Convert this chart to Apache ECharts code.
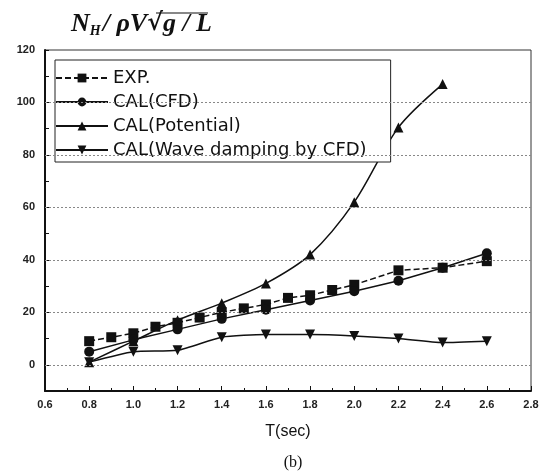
<!DOCTYPE html>
<html lang="en">

<head>
    <meta charset="UTF-8">
    <title>N_H chart</title>
    <script src="https://cdn.jsdelivr.net/npm/echarts@6/dist/echarts.min.js"></script>
    <style>
        body { margin: 0; background: #fff; }
        #app { width: 550px; height: 476px; }
    </style>
</head>

<body>
    <div id="app"></div>
    <script>
        // values
        let expT = [0.8, 0.9, 1.0, 1.1, 1.2, 1.3, 1.4, 1.5, 1.6, 1.7, 1.8, 1.9, 2.0, 2.2, 2.4, 2.6]
        let expV = [9, 10.5, 12, 14.5, 16, 18, 20, 21.5, 23, 25.5, 26.5, 28.5, 30.5, 36, 37, 39.5]
        let cfdT = [0.8, 1.0, 1.2, 1.4, 1.6, 1.8, 2.0, 2.2, 2.4, 2.6]
        let cfdV = [5, 9.5, 13.5, 17.5, 21, 24.5, 28, 32, 37, 42.5]
        let potT = [0.8, 1.0, 1.2, 1.4, 1.6, 1.8, 2.0, 2.2, 2.4]
        let potV = [1, 9, 17, 23.5, 31, 42, 62, 90.5, 107]
        let wavT = [0.8, 1.0, 1.2, 1.4, 1.6, 1.8, 2.0, 2.2, 2.4, 2.6]
        let wavV = [1, 5, 5.5, 10.5, 11.5, 11.5, 11, 10, 8.5, 9]
        let gridValues = [0, 20, 40, 60, 80, 100]
        let names = ['EXP.', 'CAL(CFD)', 'CAL(Potential)', 'CAL(Wave damping by CFD)']

        function pairs(xs, ys) {
            return xs.map((x, i) => [x, ys[i]])
        }

        let mCharts = echarts.init(document.getElementById('app'))
        let base = {
            type: 'line',
            symbolSize: 10,
            color: '#111',
            lineStyle: { color: '#111', width: 1.5 },
            itemStyle: { color: '#111' },
            animation: false
        }
        let option = {
            animation: false,
            title: [{
                text: '{i|N}{s|H}{i|/ ρV}{r|√}{i|g / L}',
                left: 66,
                top: 5,
                textStyle: {
                    rich: {
                        i: { fontFamily: 'Liberation Serif', fontStyle: 'italic', fontSize: 26, color: '#111' },
                        s: { fontFamily: 'Liberation Serif', fontStyle: 'italic', fontSize: 14, color: '#111', padding: [14, 2, 0, 0] },
                        r: { fontFamily: 'DejaVu Serif', fontSize: 24, color: '#111' }
                    }
                }
            }, {
                text: '(b)',
                left: 288,
                top: 450,
                textAlign: 'center',
                textStyle: { fontFamily: 'Liberation Serif', fontSize: 16, fontWeight: 'normal', color: '#111' }
            }],
            graphic: [{
                type: 'line',
                shape: { x1: 156, y1: 13, x2: 208, y2: 13 },
                style: { stroke: '#111', lineWidth: 1.2 }
            }],
            legend: {
                data: names,
                orient: 'vertical',
                left: 55,
                top: 60,
                itemWidth: 52,
                itemHeight: 11,
                itemGap: 6,
                padding: [9, 24, 3, 0],
                borderColor: '#222',
                borderWidth: 1,
                backgroundColor: '#fff',
                textStyle: { fontFamily: 'DejaVu Sans', fontSize: 18, color: '#111' }
            },
            grid: {
                left: 45,
                right: 19,
                top: 50,
                bottom: 85,
                show: true,
                borderColor: '#333',
                borderWidth: 1
            },
            xAxis: {
                type: 'value',
                min: 0.6,
                max: 2.8,
                interval: 0.2,
                name: 'T(sec)',
                nameLocation: 'middle',
                nameGap: 33,
                nameTextStyle: { fontFamily: 'Liberation Sans', fontSize: 16, color: '#111' },
                axisLine: { show: true, onZero: false, lineStyle: { color: '#111', width: 2 } },
                axisTick: { show: true, inside: true, length: 5, lineStyle: { color: '#111' } },
                minorTick: { show: true, splitNumber: 2, length: 3, lineStyle: { color: '#111' } },
                axisLabel: {
                    margin: 8,
                    fontFamily: 'Liberation Sans',
                    fontSize: 11,
                    fontWeight: 'bold',
                    color: '#222',
                    formatter: v => v.toFixed(1)
                },
                splitLine: { show: false }
            },
            yAxis: {
                type: 'value',
                min: -10,
                max: 120,
                interval: 10,
                axisLine: { show: true, onZero: false, lineStyle: { color: '#111', width: 2 } },
                axisTick: { show: true, inside: true, length: 4, lineStyle: { color: '#111' } },
                axisLabel: {
                    margin: 10,
                    fontFamily: 'Liberation Sans',
                    fontSize: 11,
                    fontWeight: 'bold',
                    color: '#222',
                    formatter: v => (v >= 0 && v % 20 === 0) ? String(v) : ''
                },
                splitLine: { show: false }
            },
            series: [
                Object.assign({}, base, {
                    name: names[0],
                    symbol: 'rect',
                    data: pairs(expT, expV),
                    lineStyle: { color: '#111', width: 1.5, type: [6, 3] },
                    z: 3,
                    markLine: {
                        silent: true,
                        symbol: 'none',
                        label: { show: false },
                        lineStyle: { color: '#888', width: 1, type: [2, 2] },
                        data: gridValues.map(v => ({ yAxis: v }))
                    }
                }),
                Object.assign({}, base, {
                    name: names[1],
                    symbol: 'circle',
                    data: pairs(cfdT, cfdV)
                }),
                Object.assign({}, base, {
                    name: names[2],
                    symbol: 'triangle',
                    smooth: 0.3,
                    data: pairs(potT, potV)
                }),
                Object.assign({}, base, {
                    name: names[3],
                    symbol: 'triangle',
                    symbolRotate: 180,
                    smooth: 0.2,
                    data: pairs(wavT, wavV)
                })
            ]
        }
        mCharts.setOption(option)
    </script>
</body>

</html>
